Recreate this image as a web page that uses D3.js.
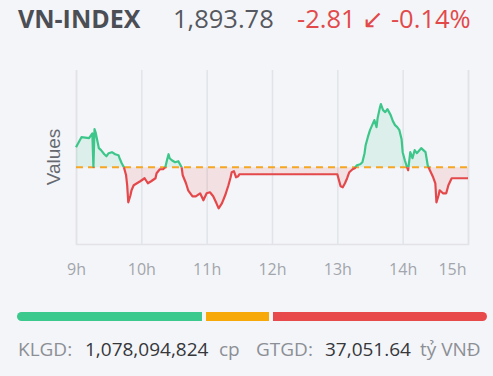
<!DOCTYPE html>
<html>
<head>
<meta charset="utf-8">
<script src="https://cdn.jsdelivr.net/npm/d3@7/dist/d3.min.js"></script>
<style>
  html, body { margin: 0; padding: 0; background: #f4f5f9; }
  svg { display: block; }
</style>
</head>
<body>
<svg id="chart" width="493" height="376"></svg>
<script>
// ---- data ----
const indexName = "VN-INDEX";
const lastValue = "1,893.78";
const changeText = "-2.81 \u2199 -0.14%";
const refValue = 1896.59;
const times = ["9:00","9:05","9:12","9:15","9:16","9:17","9:18","9:21","9:23","9:26","9:28","9:30","9:33","9:36","9:39","9:40","9:42","9:44","9:46","9:47","9:48","9:50","9:51","9:53","9:56","9:59",
 "10:03","10:06","10:09","10:13","10:14","10:17","10:20","10:22","10:24","10:25","10:26","10:28","10:31","10:34","10:36","10:37","10:38","10:41","10:43","10:47","10:50","10:54","10:57",
 "11:00","11:03","11:06","11:09","11:11","11:14","11:17","11:20","11:22","11:23","11:25","11:27","11:29","11:30",
 "13:00","13:02","13:03","13:05","13:07","13:09","13:11","13:14","13:16","13:18","13:21","13:23","13:25","13:26","13:28","13:30","13:32","13:34","13:36","13:37","13:39","13:40","13:42","13:44","13:46","13:48","13:49","13:51","13:53","13:55","13:57","13:59",
 "14:00","14:02","14:04","14:05","14:07","14:09","14:11","14:13","14:17","14:21","14:23","14:25","14:28","14:30","14:31","14:33","14:34","14:37","14:40","14:42","14:45","15:00"];
const values = [1901.71,1904.26,1904.01,1905.20,1896.65,1906.30,1905.50,1901.45,1900.94,1899.91,1899.40,1900.17,1900.43,1899.91,1899.66,1898.89,1897.61,1896.59,1894.54,1891.99,1887.64,1889.43,1890.71,1891.99,1892.50,1893.01,
 1893.78,1892.50,1893.01,1893.78,1895.06,1896.08,1896.08,1896.59,1898.89,1899.91,1898.89,1898.38,1897.87,1898.12,1897.10,1896.59,1894.54,1892.50,1890.71,1889.17,1889.17,1889.94,1888.15,
 1889.94,1890.20,1889.17,1887.38,1886.10,1887.38,1889.43,1891.99,1894.03,1895.31,1895.57,1894.03,1894.29,1894.80,
 1894.80,1892.75,1891.73,1891.47,1892.50,1893.78,1895.31,1896.08,1896.33,1897.10,1897.36,1897.87,1900.17,1902.22,1904.26,1906.05,1907.33,1908.61,1906.82,1909.12,1911.68,1912.70,1911.17,1910.66,1911.42,1910.40,1909.89,1908.35,1907.33,1906.82,1906.05,1903.75,
 1900.43,1898.38,1896.59,1895.82,1900.43,1898.89,1900.94,1900.17,1901.45,1900.43,1897.10,1895.82,1894.03,1892.50,1887.64,1889.43,1890.71,1889.94,1889.94,1891.99,1893.78,1893.78];
const hourTicks = [9, 10, 11, 12, 13, 14, 15];
const breadthCounts = [185, 63, 214]; // advancing, unchanged, declining (bar proportions)
const breadthColors = ["#3cc98d", "#f7a90a", "#e84a4c"];
const statLabels = ["KLGD:", "1,078,094,824", "cp", "GTGD:", "37,051.64", "t\u1ef7 VN\u0110"];

// ---- setup ----
const svg = d3.select("#chart");
const GREEN = "#3cc68a", RED = "#e4484a";
const toMin = s => { const [h, m] = s.split(":").map(Number); return h * 60 + m; };
const data = times.map((t, i) => ({ t: toMin(t), v: values[i] }));

const plot = { left: 76, right: 468, top: 70, bottom: 244 };
const x = d3.scaleLinear().domain([9 * 60, 15 * 60]).range([plot.left, plot.right]);
const y = d3.scaleLinear().domain([1877, 1921.4]).range([plot.bottom, plot.top]);
const yRef = y(refValue);

// header
const header = svg.append("g").attr("font-family", "'Open Sans', sans-serif");
header.append("text").attr("x", 18).attr("y", 28).attr("font-size", 25).attr("font-weight", 700)
  .attr("fill", "#4b4e54").text(indexName);
header.append("text").attr("x", 173).attr("y", 28).attr("font-size", 25.5)
  .attr("fill", "#55585e").text(lastValue);
header.append("text").attr("x", 297).attr("y", 28).attr("font-size", 25.5)
  .attr("fill", "#e2494a").text(changeText);

// grid + axis
const xAxis = d3.axisBottom(x)
  .tickValues(hourTicks.map(h => h * 60))
  .tickSize(-(plot.bottom - plot.top))
  .tickFormat(d => (d / 60) + "h");
const gx = svg.append("g").attr("transform", `translate(0,${plot.bottom})`).call(xAxis);
gx.select(".domain").attr("stroke", "#e1e3e8").attr("stroke-width", 1.5);
gx.selectAll(".tick line").attr("stroke", "#e1e3e8").attr("stroke-width", 1.5);
gx.selectAll(".tick text")
  .attr("font-family", "'Open Sans', sans-serif").attr("font-size", 16)
  .attr("fill", "#a2a5ab").attr("dy", 0).attr("y", 31);
gx.selectAll(".tick text").filter(d => d === 15 * 60)
  .attr("text-anchor", "end").attr("x", -2);

// y label
svg.append("text")
  .attr("transform", `translate(60,157) rotate(-90)`)
  .attr("text-anchor", "middle")
  .attr("font-family", "'Liberation Sans', Arial, sans-serif")
  .attr("font-size", 19).attr("fill", "#666a70").text("Values");

// clips
const defs = svg.append("defs");
defs.append("clipPath").attr("id", "above").append("rect")
  .attr("x", 0).attr("y", 0).attr("width", 493).attr("height", yRef);
defs.append("clipPath").attr("id", "below").append("rect")
  .attr("x", 0).attr("y", yRef).attr("width", 493).attr("height", 376 - yRef);

const area = d3.area().x(d => x(d.t)).y0(yRef).y1(d => y(d.v));
const line = d3.line().x(d => x(d.t)).y(d => y(d.v));

svg.append("path").datum(data).attr("d", area).attr("fill", GREEN).attr("fill-opacity", 0.12).attr("clip-path", "url(#above)");
svg.append("path").datum(data).attr("d", area).attr("fill", RED).attr("fill-opacity", 0.12).attr("clip-path", "url(#below)");

// reference line
svg.append("line").attr("x1", plot.left).attr("x2", plot.right).attr("y1", yRef).attr("y2", yRef)
  .attr("stroke", "#f5a623").attr("stroke-width", 2).attr("stroke-dasharray", "7,5");

svg.append("path").datum(data).attr("d", line).attr("fill", "none").attr("stroke", GREEN)
  .attr("stroke-width", 2.2).attr("stroke-linejoin", "round").attr("clip-path", "url(#above)");
svg.append("path").datum(data).attr("d", line).attr("fill", "none").attr("stroke", RED)
  .attr("stroke-width", 2.2).attr("stroke-linejoin", "round").attr("clip-path", "url(#below)");

// breadth bar
const bar = { x0: 17, x1: 487, y: 312, h: 9, gap: 4 };
defs.append("clipPath").attr("id", "barclip").append("rect")
  .attr("x", bar.x0).attr("y", bar.y).attr("width", bar.x1 - bar.x0).attr("height", bar.h)
  .attr("rx", bar.h / 2);
const total = d3.sum(breadthCounts);
const bw = d3.scaleLinear().domain([0, total]).range([0, bar.x1 - bar.x0 - bar.gap * (breadthCounts.length - 1)]);
let acc = bar.x0;
const segs = breadthCounts.map((c, i) => { const s = { x: acc, w: bw(c), c: breadthColors[i] }; acc += bw(c) + bar.gap; return s; });
svg.append("g").attr("clip-path", "url(#barclip)").selectAll("rect").data(segs).join("rect")
  .attr("x", d => d.x).attr("y", bar.y).attr("width", d => d.w).attr("height", bar.h).attr("fill", d => d.c);

// stats
const statX = [18, 85, 219, 256, 325, 420];
const statFill = ["#8c8f95", "#35373b", "#8c8f95", "#8c8f95", "#35373b", "#8c8f95"];
svg.append("g").attr("font-family", "'Open Sans', sans-serif").attr("font-size", 19)
  .selectAll("text").data(statLabels).join("text")
  .attr("x", (d, i) => statX[i]).attr("y", 356).attr("fill", (d, i) => statFill[i]).text(d => d);
</script>
</body>
</html>
